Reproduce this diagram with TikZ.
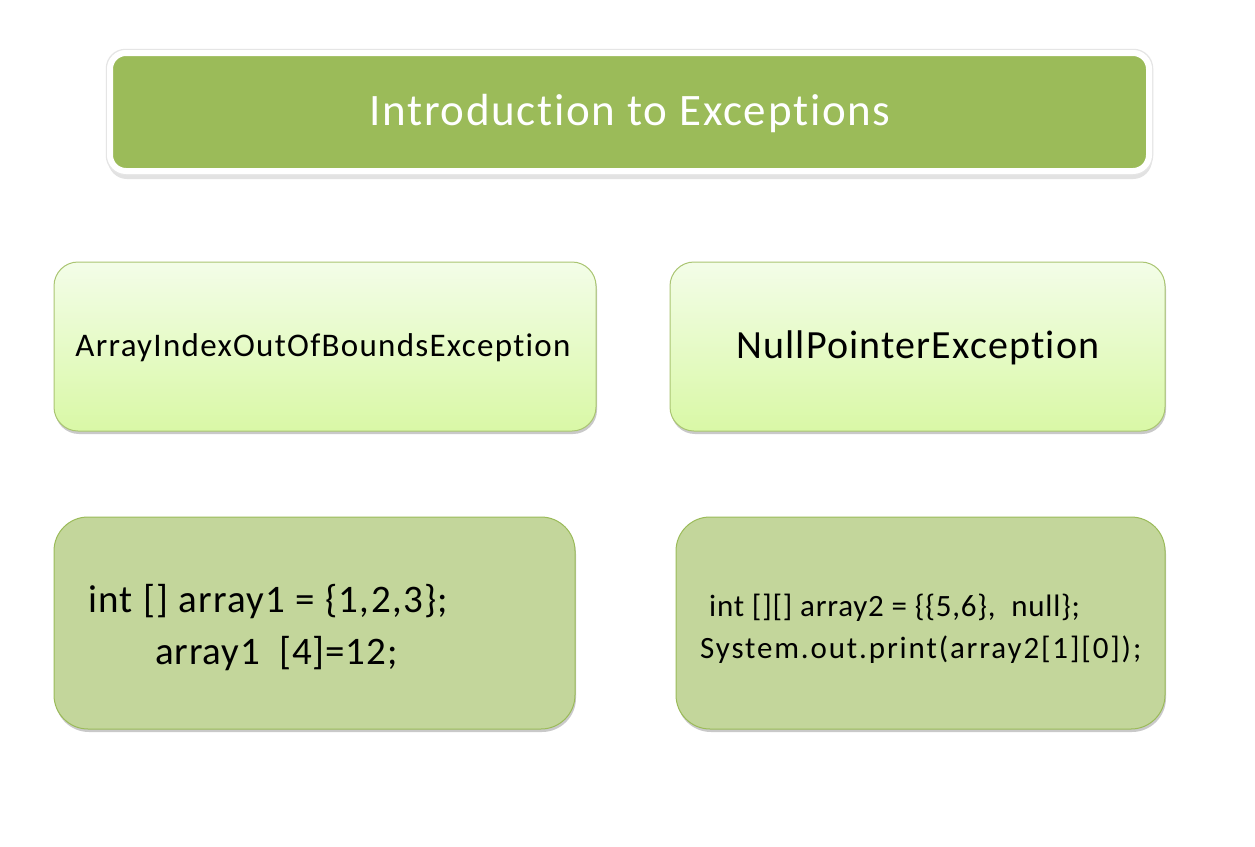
\documentclass[tikz,border=0pt]{standalone}
\usepackage{fontspec}
\setmainfont[Ligatures=NoCommon]{Carlito}
\usetikzlibrary{shadows}
\definecolor{olive}{HTML}{9BBB59}
\definecolor{paletop}{HTML}{F3FDE8}
\definecolor{palebot}{HTML}{D9F8A6}
\definecolor{codefill}{HTML}{C3D69B}
% font size plus letter spacing
\newcommand{\spacedfont}[2]{\fontsize{#1}{#1}\selectfont\addfontfeature{LetterSpace=#2}}
\tikzset{
  px/.style={x=1pt,y=-1pt},
  shade/.style={drop shadow={shadow xshift=1pt,shadow yshift=-3pt,opacity=0.35,fill=black!60}},
  titleshadow/.style={fill=black!45,opacity=0.25,rounded corners=19pt},
  titleframe/.style={draw=white,line width=6pt,fill=olive,rounded corners=16pt},
  titlehalo/.style={draw=black!10,line width=1.5pt,rounded corners=19pt},
  namebox/.style={draw=olive!85,line width=1pt,top color=paletop,bottom color=palebot,
    rounded corners=24pt,shade},
  codebox/.style={draw=olive,line width=1pt,fill=codefill,rounded corners=34pt,shade},
  lbl/.style={inner sep=0pt,text=black}
}
\begin{document}
\begin{tikzpicture}[px]
\useasboundingbox[fill=white] (0,0) rectangle (1255,846);
% title banner with white frame and soft shadow below
\path[titleshadow] (108,54) rectangle (1152,179);
\path[titlehalo] (106.5,49.5) rectangle (1152.5,174.5);
\path[titleframe] (110,53) rectangle (1149,171);
\node[lbl,text=white,font=\spacedfont{45}{3.8}] (title) at (630,113) {Introduction to Exceptions};
% exception names
\path[namebox] (54,262) rectangle (596,431);
\node[lbl,font=\spacedfont{33}{3.9}] (aioobe) at (323,348) {ArrayIndexOutOfBoundsException};
\path[namebox] (670,262) rectangle (1165,431);
\node[lbl,font=\spacedfont{40}{2.9}] (npe) at (918,348) {NullPointerException};
% code samples
\path[codebox] (54,517) rectangle (575,729);
\node[lbl,anchor=base west,font=\spacedfont{39}{3.4}] (c1a) at (88,612) {int [] array1 = \{1,2,3\};};
\node[lbl,anchor=base west,font=\spacedfont{39}{2.2}] (c1b) at (155,664) {array1\ \ [4]=12;};
\path[codebox] (676,517) rectangle (1165,729);
\node[lbl,anchor=base west,font=\spacedfont{31}{2.5}] (c2a) at (709,616) {int [][] array2 = \{\{5,6\},\ \ null\};};
\node[lbl,anchor=base west,font=\spacedfont{31}{6}] (c2b) at (700,658) {System.out.print(array2[1][0]);};
\end{tikzpicture}
\end{document}
